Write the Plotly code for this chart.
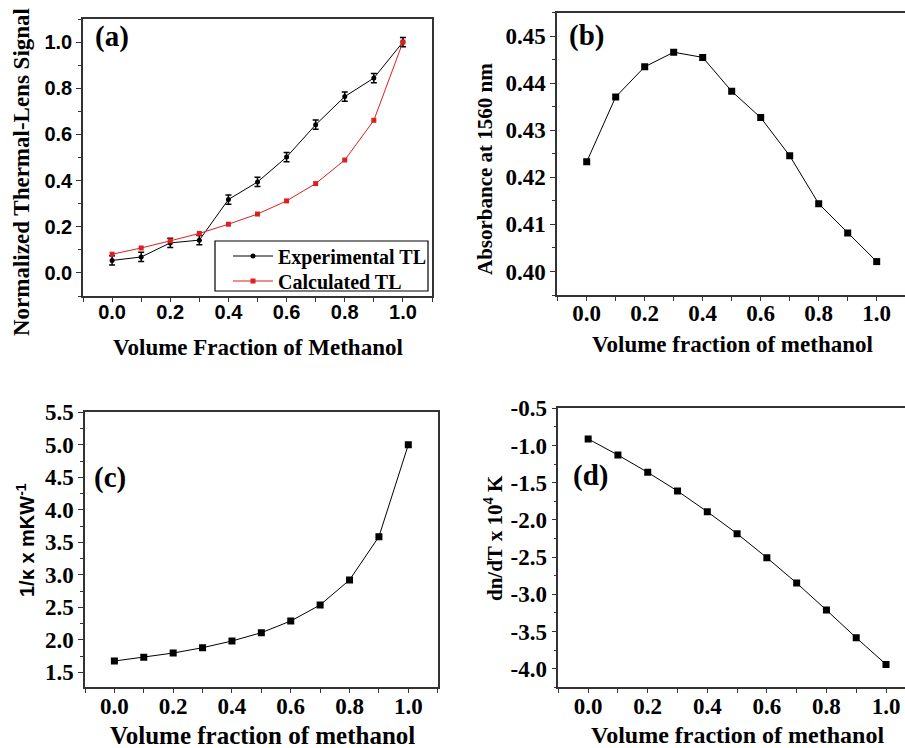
import plotly.graph_objects as go

# ---------------- data ----------------
frac = [0.0, 0.1, 0.2, 0.3, 0.4, 0.5, 0.6, 0.7, 0.8, 0.9, 1.0]

exp_tl = [0.054, 0.069, 0.130, 0.142, 0.318, 0.394, 0.502, 0.642, 0.764, 0.844, 1.0]
exp_tl_err = [0.02, 0.02, 0.02, 0.02, 0.02, 0.02, 0.02, 0.02, 0.02, 0.02, 0.02]
calc_tl = [0.081, 0.108, 0.139, 0.171, 0.211, 0.255, 0.312, 0.387, 0.489, 0.661, 1.0]

absorbance = [0.4233, 0.4371, 0.4435, 0.4466, 0.4455, 0.4383, 0.4327, 0.4246, 0.4144, 0.4082, 0.4021]

inv_kappa = [1.674, 1.731, 1.797, 1.879, 1.982, 2.110, 2.290, 2.536, 2.921, 3.587, 5.0]

dndt = [-0.912, -1.128, -1.361, -1.612, -1.890, -2.185, -2.508, -2.849, -3.212, -3.584, -3.942]

x_tickvals = [0.0, 0.2, 0.4, 0.6, 0.8, 1.0]
x_ticktext = ["0.0", "0.2", "0.4", "0.6", "0.8", "1.0"]
d_tickvals = [-0.5, -1.0, -1.5, -2.0, -2.5, -3.0, -3.5, -4.0]
d_ticktext = ["-0.5", "-1.0", "-1.5", "-2.0", "-2.5", "-3.0", "-3.5", "-4.0"]

SERIF = "Liberation Serif"
SANS = "Liberation Sans"
RED = "#dd1f1f"
AXC = "#333333"

fig = go.Figure()

# (a)
fig.add_trace(go.Scatter(x=frac, y=exp_tl, mode="lines+markers", name="Experimental TL",
                         line=dict(color="black", width=1),
                         marker=dict(symbol="circle", size=5, color="black"),
                         error_y=dict(type="data", array=exp_tl_err, visible=True,
                                      color="black", thickness=1.5, width=3),
                         xaxis="x", yaxis="y", legend="legend"))
fig.add_trace(go.Scatter(x=frac, y=calc_tl, mode="lines+markers", name="Calculated TL",
                         line=dict(color=RED, width=1),
                         marker=dict(symbol="square", size=5, color=RED),
                         xaxis="x", yaxis="y", legend="legend2"))
# (b)
fig.add_trace(go.Scatter(x=frac, y=absorbance, mode="lines+markers", showlegend=False,
                         line=dict(color="black", width=1),
                         marker=dict(symbol="square", size=7, color="black"),
                         xaxis="x2", yaxis="y2"))
# (c)
fig.add_trace(go.Scatter(x=frac, y=inv_kappa, mode="lines+markers", showlegend=False,
                         line=dict(color="black", width=1),
                         marker=dict(symbol="square", size=7, color="black"),
                         xaxis="x3", yaxis="y3"))
# (d)
fig.add_trace(go.Scatter(x=frac, y=dndt, mode="lines+markers", showlegend=False,
                         line=dict(color="black", width=1),
                         marker=dict(symbol="square", size=7, color="black"),
                         xaxis="x4", yaxis="y4"))

W, H = 905, 748


def px_x(p):
    return p / W


def px_y(p):
    return 1 - p / H


def xaxis(domain, rng, anchor, tickfont, mirror=True):
    return dict(domain=domain, range=rng, anchor=anchor, automargin=False,
                tickvals=x_tickvals, ticktext=x_ticktext,
                ticks="outside", ticklen=4, tickwidth=1, tickcolor=AXC,
                ticklabelstandoff=-7,
                minor=dict(dtick=0.1, tick0=0, ticks="outside", ticklen=4, tickcolor=AXC),
                showline=True, linecolor=AXC, linewidth=1.5, mirror=mirror,
                showgrid=False, zeroline=False, tickfont=tickfont)


def yaxis(domain, rng, anchor, tickfont, mirror=True, **kw):
    d = dict(domain=domain, range=rng, anchor=anchor, automargin=False,
             ticks="outside", ticklen=5, tickwidth=1, tickcolor=AXC,
             showline=True, linecolor=AXC, linewidth=1.5, mirror=mirror,
             showgrid=False, zeroline=False, tickfont=tickfont)
    d.update(kw)
    return d


sans_tf = dict(family=SANS, size=20, color="black", weight="bold")
serif_tf = dict(family=SERIF, size=23, color="black", weight="bold")
legend_font = dict(family=SERIF, size=20, color="black", weight="bold")

fig.update_layout(
    width=W, height=H,
    margin=dict(l=0, r=0, t=0, b=0, autoexpand=False),
    paper_bgcolor="white", plot_bgcolor="white",
    xaxis=xaxis([px_x(83), px_x(432)], [-0.1, 1.1], "y", sans_tf),
    yaxis=yaxis([px_y(296), px_y(19)], [-0.1, 1.1], "x", sans_tf,
                dtick=0.2, tick0=0, tickformat=".1f",
                minor=dict(dtick=0.1, tick0=0, ticks="outside", ticklen=3, tickcolor=AXC)),
    xaxis2=xaxis([px_x(557), 1.0], [-0.1024, 1.0976], "y2", serif_tf, mirror=True),
    yaxis2=yaxis([px_y(295), px_y(12.7)], [0.395, 0.455], "x2", serif_tf, mirror=False,
                 dtick=0.01, tick0=0.4, tickformat=".2f",
                 minor=dict(dtick=0.005, tick0=0.4, ticks="outside", ticklen=3, tickcolor=AXC)),
    xaxis3=xaxis([px_x(85), px_x(437.7)], [-0.1, 1.1], "y3", serif_tf),
    yaxis3=yaxis([px_y(687.3), px_y(412.3)], [1.27, 5.5], "x3", serif_tf,
                 dtick=0.5, tick0=1.5, tickformat=".1f",
                 minor=dict(dtick=0.25, tick0=1.5, ticks="outside", ticklen=3, tickcolor=AXC)),
    xaxis4=xaxis([px_x(558.3), 1.0], [-0.1003, 1.0638], "y4", serif_tf, mirror=True),
    yaxis4=yaxis([px_y(687.3), px_y(408.3)], [-4.25, -0.5], "x4", serif_tf, mirror=False,
                 tickvals=d_tickvals, ticktext=d_ticktext,
                 minor=dict(dtick=0.25, tick0=-0.5, ticks="outside", ticklen=3, tickcolor=AXC)),
    legend=dict(x=px_x(228), y=px_y(256), xanchor="left", yanchor="middle",
                borderwidth=0, bgcolor="rgba(0,0,0,0)", font=legend_font, itemwidth=40),
    legend2=dict(x=px_x(228), y=px_y(281), xanchor="left", yanchor="middle",
                 borderwidth=0, bgcolor="rgba(0,0,0,0)", font=legend_font, itemwidth=40),
    showlegend=True,
    shapes=[dict(type="rect", xref="paper", yref="paper",
                 x0=px_x(215), x1=px_x(428), y0=px_y(291), y1=px_y(241),
                 line=dict(color="black", width=1.2), fillcolor="white", layer="below")],
)

title_font = dict(family=SERIF, size=23, color="black", weight="bold")
label_font = dict(family=SERIF, size=29, color="black", weight="bold")

annots = [
    # axis titles
    dict(text="Normalized Thermal-Lens Signal", x=px_x(21), y=px_y(172), textangle=-90, font=title_font),
    dict(text="Volume Fraction of Methanol", x=px_x(258), y=px_y(347), font=title_font),
    dict(text="Absorbance at 1560 nm", x=px_x(485), y=px_y(169), textangle=-90,
         font=dict(family=SERIF, size=21, color="black", weight="bold")),
    dict(text="Volume fraction of methanol", x=px_x(732.5), y=px_y(345), font=title_font),
    dict(text="1/κ x mKW<sup>-1</sup>", x=px_x(25), y=px_y(540), textangle=-90,
         font=dict(family=SANS, size=20, color="black", weight="bold")),
    dict(text="Volume fraction of methanol", x=px_x(262), y=px_y(735),
         font=dict(family=SERIF, size=25, color="black", weight="bold")),
    dict(text="dn/dT x 10<sup>4</sup> K", x=px_x(493), y=px_y(538), textangle=-90,
         font=dict(family=SERIF, size=21, color="black", weight="bold")),
    dict(text="Volume fraction of methanol", x=px_x(737), y=px_y(735),
         font=dict(family=SERIF, size=24, color="black", weight="bold")),
    # panel labels
    dict(text="(a)", x=px_x(112), y=px_y(37), font=label_font),
    dict(text="(b)", x=px_x(586), y=px_y(36), font=label_font),
    dict(text="(c)", x=px_x(110), y=px_y(477), font=label_font),
    dict(text="(d)", x=px_x(590), y=px_y(475), font=label_font),
]
for a in annots:
    a.update(xref="paper", yref="paper", showarrow=False, xanchor="center", yanchor="middle")
fig.update_layout(annotations=annots)

fig.write_html("out.html", config={"displayModeBar": False})

# remove the browser's default page margin so the figure sits at (0, 0)
with open("out.html", "r", encoding="utf-8") as f:
    html = f.read()
html = html.replace("<body>", '<body style="margin:0;padding:0;overflow:hidden">', 1)
with open("out.html", "w", encoding="utf-8") as f:
    f.write(html)
